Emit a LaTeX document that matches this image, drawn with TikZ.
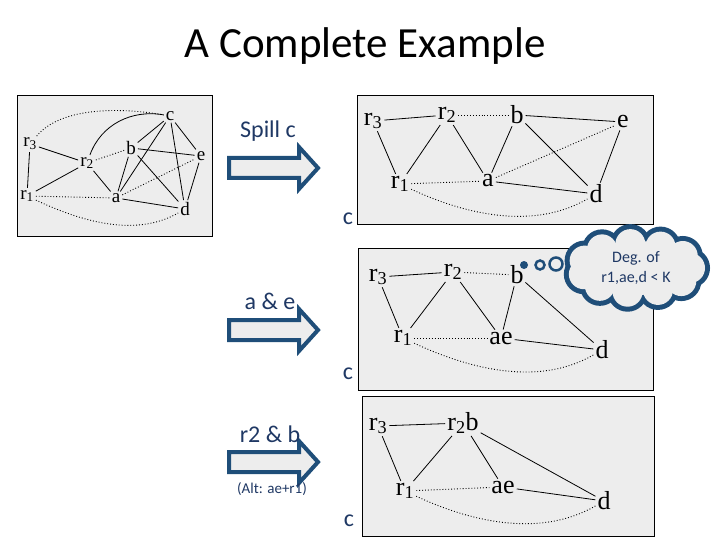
\documentclass[tikz,border=0pt]{standalone}
\usepackage{fontspec}
\setmainfont{Carlito}
\newfontfamily\scanfont{Liberation Serif}
\definecolor{navy}{HTML}{1F3864}
\definecolor{arrblue}{HTML}{1F4E79}
\definecolor{scan}{HTML}{EDEDED}
\tikzset{
  scanbox/.style={draw=black, fill=scan},
  v/.style={inner sep=1pt, font=\scanfont\fontsize{26}{26}\selectfont},
  vs/.style={inner sep=1pt, font=\scanfont\fontsize{19}{19}\selectfont},
  e/.style={line width=0.8pt, shorten <=1pt, shorten >=1pt},
  ed/.style={dotted, line width=0.9pt, shorten <=1pt, shorten >=1pt},
  arc/.style={ed, out=-25, in=-150, looseness=0.9},
  lbl/.style={text=navy, font=\fontsize{24}{26}\selectfont},
  bigarrow/.style={draw=arrblue, fill=scan, line width=4pt, line join=miter}
}
\newcommand{\rr}[1]{r\textsubscript{#1}}
\newcommand{\blockarrow}[1]{\draw[bigarrow] (229,#1-10) -- (299,#1-10) -- (299,#1-21)
  -- (318,#1) -- (299,#1+21) -- (299,#1+10) -- (229,#1+10) -- cycle;}
\begin{document}
\begin{tikzpicture}[x=1pt,y=-1pt]
\useasboundingbox (0,0) rectangle (720,540);
\node[font=\fontsize{43}{45}\selectfont] (title) at (365,46) {A Complete Example};

% original graph
\draw[scanbox] (17,95) rectangle (212,236);
\begin{scope}[every node/.style=vs]
\node (c) at (170,116) {c};
\node (r3) at (30,144) {\rr3};
\node (b) at (131,148) {b};
\node (e) at (201,156) {e};
\node (r2) at (87,163) {\rr2};
\node (r1) at (27,196) {\rr1};
\node (a) at (116,198) {a};
\node (d) at (185,209) {d};
\end{scope}
\foreach \s/\t in {r3/r2,r3/r1,r2/r1,r2/a,c/b,c/a,c/e,c/d,b/e,b/a,b/d,e/d,a/d}
  \draw[e] (\s) -- (\t);
\draw[e] (r2) to[out=70,in=170] (c);
\foreach \s/\t in {r2/b,a/e,r1/a}
  \draw[ed] (\s) -- (\t);
\draw[ed] (r3) to[out=50,in=170, looseness=0.8] (c);
\draw[arc] (r1) to (d);

% spill c
\draw[scanbox] (357,95) rectangle (653,224);
\begin{scope}[every node/.style=v]
\node (r3) at (373,121) {\rr3};
\node (r2) at (447,115) {\rr2};
\node (b) at (517,115) {b};
\node (e) at (623,122) {e};
\node (r1) at (400,184) {\rr1};
\node (a) at (488,181) {a};
\node (d) at (596,194) {d};
\end{scope}
\foreach \s/\t in {r3/r2,r3/r1,r2/r1,r2/a,b/a,b/d,b/e,e/d,a/d}
  \draw[e] (\s) -- (\t);
\foreach \s/\t in {r2/b,a/e,r1/a}
  \draw[ed] (\s) -- (\t);
\draw[arc] (r1) to (d);

% a & e
\draw[scanbox] (358,248) rectangle (653,390);
\begin{scope}[every node/.style=v]
\node (r3) at (378,277) {\rr3};
\node (r2) at (453,272) {\rr2};
\node (b) at (517,275) {b};
\node (r1) at (403,338) {\rr1};
\node (ae) at (501,338) {ae};
\node (d) at (602,350) {d};
\end{scope}
\foreach \s/\t in {r2/b,r1/ae}
  \draw[ed] (\s) -- (\t);
\foreach \s/\t in {r3/r2,r3/r1,r2/r1,r2/ae,b/ae,b/d,ae/d}
  \draw[e] (\s) -- (\t);
\draw[arc] (r1) to (d);

% thought cloud
\foreach \a in {0,33,...,330}
  \draw[arrblue, line width=10pt] (636,268) ++(\a:54 and 24) circle (15);
\foreach \a in {0,33,...,330}
  \fill[scan] (636,268) ++(\a:54 and 24) circle (15);
\fill[scan] (636,268) ellipse (58 and 27);
\node[text=navy, align=center, font=\fontsize{16}{20}\selectfont]
  (cloud) at (636,268) {Deg. of\\r1,ae,d < K};
\fill[arrblue] (524,265) circle (4);
\draw[arrblue, line width=2.5pt, fill=scan] (540,265) circle (4.5);
\draw[arrblue, line width=2.5pt, fill=scan] (556,264) circle (6.5);

% r2 & b
\draw[scanbox] (362,396) rectangle (654,536);
\begin{scope}[every node/.style=v]
\node (r3) at (378,426) {\rr3};
\node (r2b) at (463,423) {\rr2b};
\node (r1) at (405,491) {\rr1};
\node (ae) at (503,487) {ae};
\node (d) at (604,501) {d};
\end{scope}
\foreach \s/\t in {r3/r2b,r3/r1,r2b/r1,r2b/ae,r2b/d,ae/d}
  \draw[e] (\s) -- (\t);
\draw[ed] (r1) -- (ae);
\draw[arc] (r1) to (d);

% steps
\blockarrow{168}
\blockarrow{330}
\blockarrow{462}
\node[lbl] (spill) at (268,131) {Spill c};
\node[lbl] (c1) at (348,219) {c};
\node[lbl] (ae lbl) at (270,301) {a \& e};
\node[lbl] (c2) at (348,374) {c};
\node[lbl] (r2b lbl) at (270,434) {r2 \& b};
\node[text=navy, font=\fontsize{15}{17}\selectfont] (alt) at (272,489) {(Alt: ae+r1)};
\node[lbl] (c3) at (349,521) {c};
\end{tikzpicture}
\end{document}
